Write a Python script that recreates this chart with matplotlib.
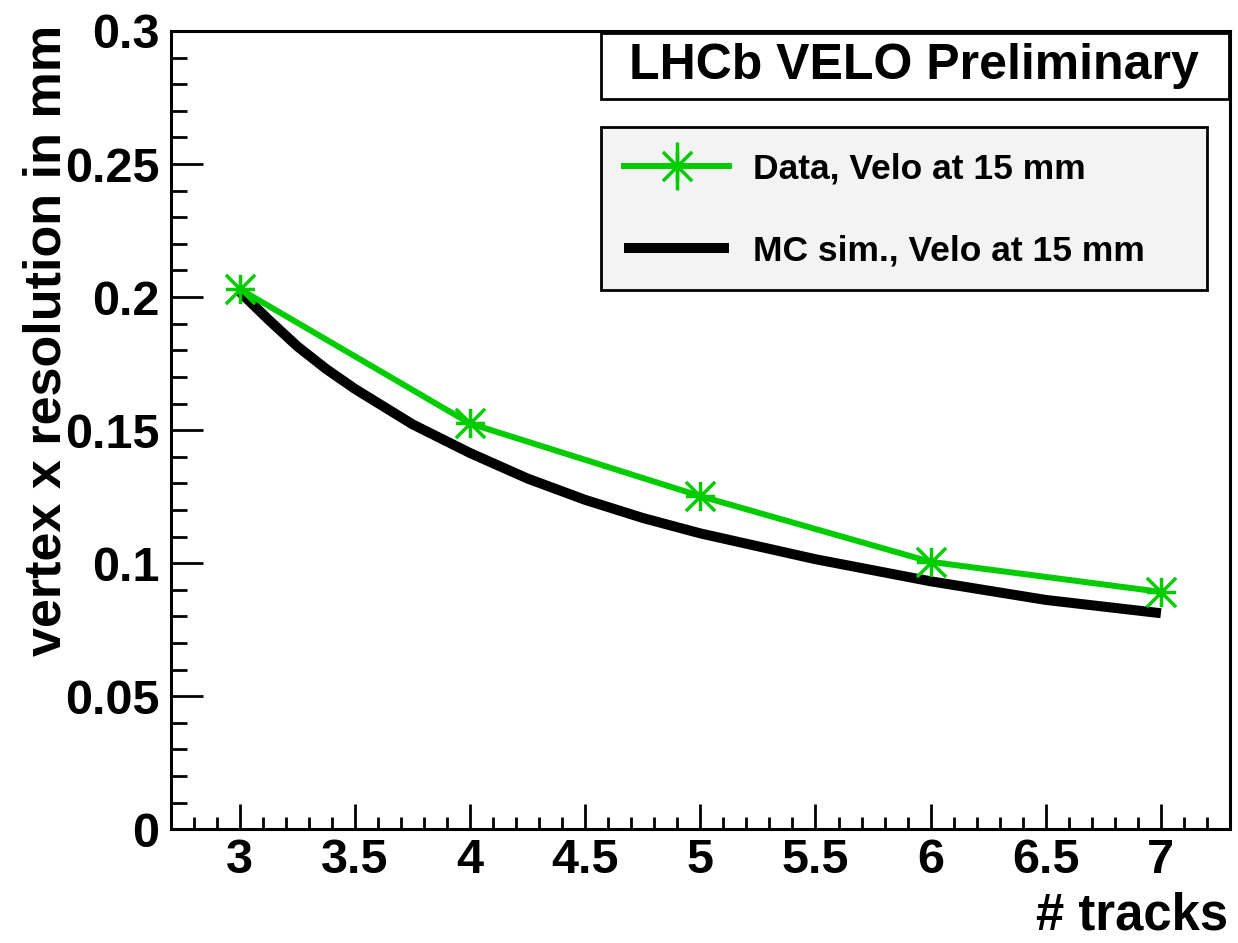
import matplotlib
matplotlib.use('Agg')
import matplotlib.pyplot as plt
from matplotlib.path import Path
from matplotlib.lines import Line2D
from matplotlib.patches import Rectangle
from matplotlib.legend_handler import HandlerTuple
from matplotlib.ticker import MultipleLocator

plt.rcParams['font.family'] = ['Liberation Sans', 'DejaVu Sans']
plt.rcParams['font.weight'] = 'bold'

# ---- data ----
n_tracks = [3, 4, 5, 6, 7]
data_res = [0.2030, 0.1525, 0.1252, 0.1005, 0.0892]

mc_tracks = [3.0, 3.125, 3.25, 3.375, 3.5, 3.75, 4.0, 4.25, 4.5, 4.75, 5.0,
             5.5, 6.0, 6.5, 7.0]
mc_res = [0.2020, 0.1915, 0.1815, 0.1730, 0.1655, 0.1522, 0.1414, 0.1318,
          0.1238, 0.1170, 0.1112, 0.1015, 0.0932, 0.0862, 0.0812]

labels = ['Data, Velo at 15 mm', 'MC sim., Velo at 15 mm']
title = 'LHCb VELO Preliminary'
xlabel = '# tracks'
ylabel = 'vertex x resolution in mm'

green = '#00cc00'

W, H = 1238, 943
fig = plt.figure(figsize=(W / 100, H / 100), dpi=100)
ax = fig.add_axes([170.7 / W, (H - 829.3) / H, (1230 - 170.7) / W, (829.3 - 31) / H])

ast = Path([(-1, 0), (1, 0), (0, -1), (0, 1), (-1, -1), (1, 1), (-1, 1), (1, -1)],
           [Path.MOVETO, Path.LINETO] * 4)

ax.plot(mc_tracks, mc_res, color='black', lw=7.2, solid_capstyle='butt',
        solid_joinstyle='round', zorder=2)
h_data, = ax.plot(n_tracks, data_res, color=green, lw=4.3, marker=ast, ms=21,
                  mew=2.5, mec=green, mfc='none', zorder=3)

ax.set_xlim(2.7, 7.3)
ax.set_ylim(0, 0.3)
ax.xaxis.set_major_locator(MultipleLocator(0.5))
ax.xaxis.set_minor_locator(MultipleLocator(0.1))
ax.yaxis.set_major_locator(MultipleLocator(0.05))
ax.yaxis.set_minor_locator(MultipleLocator(0.01))
ax.xaxis.set_major_formatter(plt.FuncFormatter(lambda v, p: f'{v:g}'))
ax.yaxis.set_major_formatter(plt.FuncFormatter(lambda v, p: f'{v:g}'))

for s in ax.spines.values():
    s.set_linewidth(2.2)
ax.tick_params(axis='both', which='both', direction='in', top=False, right=False,
               width=2.0, labelsize=35)
ax.tick_params(axis='x', which='major', length=18, pad=6)
ax.tick_params(axis='x', which='minor', length=9)
ax.tick_params(axis='y', which='major', length=23, pad=8)
ax.tick_params(axis='y', which='minor', length=11.5)

fig.text(1228 / W, (H - 930) / H, xlabel, ha='right', va='baseline',
         fontsize=36.5, fontweight='bold')
fig.text(47 / W, (H - 25) / H, ylabel, ha='center', va='top', rotation=90,
         fontsize=37.5, fontweight='bold')

# title box
ax.add_patch(Rectangle((601 / W, (H - 99) / H), (1229 - 601) / W, 66 / H,
                       transform=fig.transFigure, fc='white', ec='black',
                       lw=2.0, zorder=5, clip_on=False))
fig.text(914 / W, (H - 66) / H, title, ha='center', va='center',
         fontsize=36, fontweight='bold', zorder=6)

# legend box
ax.add_patch(Rectangle((601 / W, (H - 290) / H), (1207 - 601) / W, 163 / H,
                       transform=fig.transFigure, fc='#f3f3f3', ec='black',
                       lw=2.0, zorder=5, clip_on=False))

h_err = Line2D([], [], ls='none', marker='|', ms=35, mew=2.5, color=green)
h_mc = Line2D([], [], color='black', lw=7.2, solid_capstyle='butt')
leg = ax.legend([(h_data, h_err), h_mc], labels,
                handler_map={tuple: HandlerTuple(ndivide=1, pad=0)},
                loc='center left', bbox_to_anchor=(624 / W, (H - 210) / H),
                bbox_transform=fig.transFigure, frameon=False, borderpad=0,
                borderaxespad=0, handlelength=2.97, handletextpad=0.68,
                labelspacing=1.38, fontsize=25.5)
leg.set_zorder(7)
for t in leg.get_texts():
    t.set_fontweight('bold')

fig.savefig('out.png', dpi=100)
